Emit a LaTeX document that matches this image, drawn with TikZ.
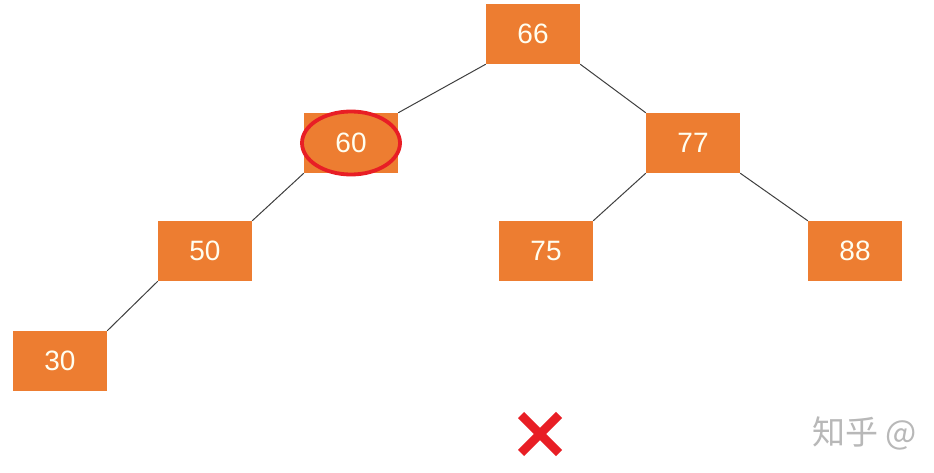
\documentclass[tikz,border=0pt]{standalone}
\usepackage{fontspec}
\setmainfont{Liberation Sans}
\newfontfamily\cjkfont{Noto Sans CJK SC}
\definecolor{boxorange}{HTML}{ED7D31}
\definecolor{markred}{HTML}{E81E25}
\definecolor{edgegray}{HTML}{404040}
\begin{document}
\begin{tikzpicture}[x=1pt,y=-1pt,
  keybox/.style={fill=boxorange, draw=none, minimum width=94pt, minimum height=60pt,
    inner sep=0pt, text=white!94!yellow, font=\fontsize{28}{28}\selectfont},
  treeedge/.style={draw=edgegray, line width=1pt}]
\useasboundingbox (0,0) rectangle (934,473);
\fill[white] (0,0) rectangle (934,473);

% tree nodes
\node[keybox] (n66) at (533,34) {66};
\node[keybox] (n60) at (351,143) {60};
\node[keybox] (n77) at (693,143) {77};
\node[keybox] (n50) at (205,251) {50};
\node[keybox] (n75) at (546,251) {75};
\node[keybox] (n88) at (855,251) {88};
\node[keybox] (n30) at (60,361) {30};

% edges, corner to corner
\draw[treeedge] (n66.south west) -- (n60.north east);
\draw[treeedge] (n66.south east) -- (n77.north west);
\draw[treeedge] (n60.south west) -- (n50.north east);
\draw[treeedge] (n77.south west) -- (n75.north east);
\draw[treeedge] (n77.south east) -- (n88.north west);
\draw[treeedge] (n50.south west) -- (n30.north east);

% highlight around 60
\draw[markred, line width=3.8pt] (n60.center) ellipse [x radius=49pt, y radius=31.5pt];

% cross mark
\coordinate (xm) at (540,434);
\draw[markred, line width=8.5pt] ([shift={(-19,-19)}]xm) -- ([shift={(19,19)}]xm)
  ([shift={(-19,19)}]xm) -- ([shift={(19,-19)}]xm);

% watermark
\node[anchor=west, text=black!28, font=\cjkfont\fontsize{33}{33}\selectfont, inner sep=0pt] (wm) at (812,433) {知乎 @};
\end{tikzpicture}
\end{document}
